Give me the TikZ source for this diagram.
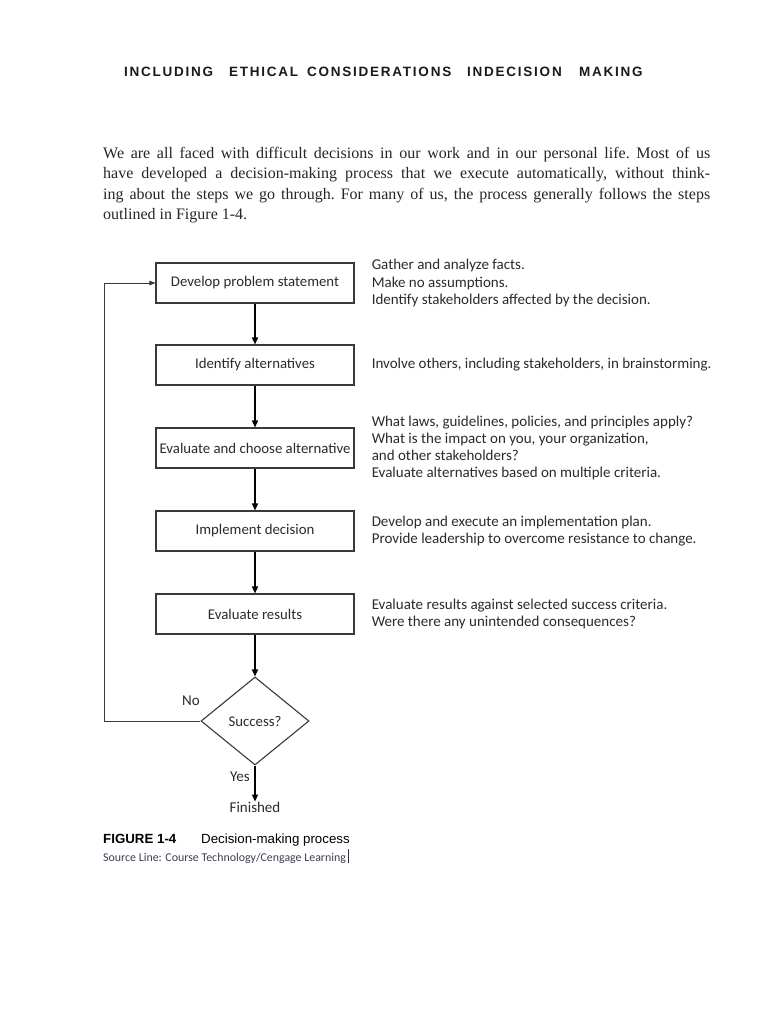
\documentclass[tikz,border=0pt]{standalone}
\usepackage{fontspec}
\setmainfont{Carlito}
\newfontfamily\serif{Liberation Serif}
\newfontfamily\arial{Liberation Sans}
\newfontfamily\hdr{Liberation Sans Bold}[LetterSpace=13]
\usetikzlibrary{arrows.meta,shapes.geometric}
\definecolor{boxline}{HTML}{3A3A3A}
\definecolor{txt}{HTML}{2B2B2B}
\definecolor{src}{HTML}{3A3F55}
\tikzset{
  stepbox/.style={draw=boxline, line width=1.1pt, minimum width=198pt, minimum height=40pt, inner sep=0pt, font=\fontsize{14.8}{17}\selectfont, text=txt},
  desc/.style={anchor=west, xshift=17pt, align=left, inner sep=0pt, font=\fontsize{15}{17.3}\selectfont, text=txt},
  arr/.style={line width=1.5pt, -{Triangle[length=7pt,width=6pt]}},
  fb/.style={draw=boxline, line width=0.8pt, -{Triangle[length=6pt,width=4.5pt]}},
  hword/.style={anchor=base west, inner sep=0pt, font=\hdr\fontsize{13.5}{15}\selectfont, text=black!90},
  lbl/.style={inner sep=0pt, font=\fontsize{15}{17}\selectfont, text=txt}
}
\begin{document}
\begin{tikzpicture}[x=1pt,y=-1pt]
\useasboundingbox[fill=white] (0,0) rectangle (768,1024);
% header
\node[hword] (h1) at (124,77) {INCLUDING};
\node[hword] (h2) at (229,77) {ETHICAL};
\node[hword] (h3) at (307,77) {CONSIDERATIONS};
\node[hword] (h4) at (467,77) {INDECISION};
\node[hword] (h5) at (579,77) {MAKING};
% paragraph
\node[anchor=north west, text width=607pt, inner sep=0pt, align=justify, font=\serif\frenchspacing\fontsize{16}{20.5}\selectfont, text=black!85] (para) at (103,147)
{We are all faced with difficult decisions in our work and in our personal life. Most of us\linebreak
have developed a decision-making process that we execute automatically, without think-\linebreak
ing about the steps we go through. For many of us, the process generally follows the steps\linebreak
outlined in Figure 1-4.};
% boxes
\node[stepbox] (b1) at (255,283) {Develop problem statement};
\node[stepbox] (b2) at (255,365) {Identify alternatives};
\node[stepbox] (b3) at (255,448) {Evaluate and choose alternative};
\node[stepbox] (b4) at (255,531) {Implement decision};
\node[stepbox] (b5) at (255,614) {Evaluate results};
\node[draw=boxline, line width=1.1pt, shape=diamond, minimum width=108pt, minimum height=88pt, inner sep=0pt, font=\fontsize{14.8}{17}\selectfont, text=txt] (d) at (255,721) {Success?};
\node[lbl] (fin) at (255,807) {Finished};
\node[lbl] (no) at (191,701) {No};
\node[lbl] (yes) at (240,777) {Yes};
% descriptions
\node[desc] (t1) at (b1.east) {Gather and analyze facts.\\Make no assumptions.\\Identify stakeholders affected by the decision.};
\node[desc] (t2) at (b2.east) {Involve others, including stakeholders, in brainstorming.};
\node[desc] (t3) at (b3.east) {What laws, guidelines, policies, and principles apply?\\What is the impact on you, your organization,\\and other stakeholders?\\Evaluate alternatives based on multiple criteria.};
\node[desc] (t4) at (b4.east) {Develop and execute an implementation plan.\\Provide leadership to overcome resistance to change.};
\node[desc] (t5) at (b5.east) {Evaluate results against selected success criteria.\\Were there any unintended consequences?};
% connectors
\draw[arr] (b1.south) -- (b2.north);
\draw[arr] (b2.south) -- (b3.north);
\draw[arr] (b3.south) -- (b4.north);
\draw[arr] (b4.south) -- (b5.north);
\draw[arr] (b5.south) -- (d.north);
\draw[arr] (d.south) -- (fin.north);
\coordinate (fbl) at (104,721);
\draw[fb] (d.west) -- (fbl) |- (b1.west);
% caption
\node[anchor=base west, inner sep=0pt, font=\arial\bfseries\fontsize{13.3}{16}\selectfont] (fig) at (103,843) {FIGURE 1-4};
\node[anchor=base west, inner sep=0pt, font=\arial\fontsize{13.3}{16}\selectfont] (cap) at (201,843) {Decision-making process};
\node[anchor=base west, inner sep=0pt, font=\fontsize{11.9}{13}\selectfont, text=src] (srcl) at (103,861) {Source Line: Course Technology/Cengage Learning};
\coordinate (cur) at ([xshift=2pt]srcl.south east);
\draw[line width=0.8pt, black!80] (cur) -- ++(0,-14);
\end{tikzpicture}
\end{document}
